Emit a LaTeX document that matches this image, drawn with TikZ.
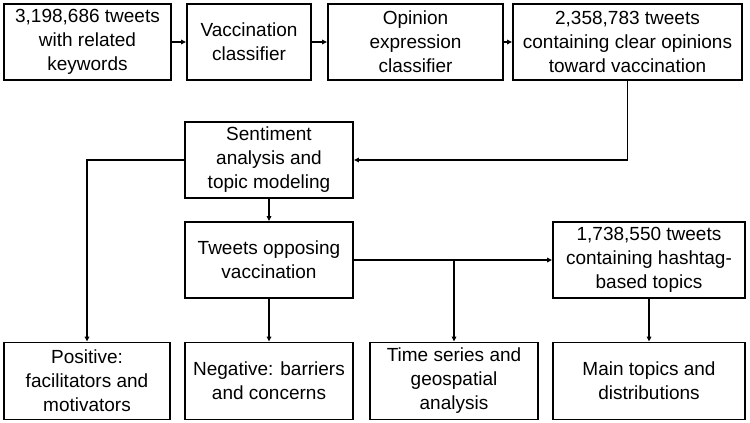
\documentclass[tikz,border=0pt]{standalone}
\usepackage{fontspec}
\setmainfont{Liberation Sans}
\usetikzlibrary{arrows.meta}
\begin{document}
\begin{tikzpicture}[x=1pt,y=-1pt,
  box/.style={draw=black,line width=1.8pt,rectangle,inner sep=0pt,align=center,
    font=\fontsize{19}{24}\selectfont,minimum height=76pt},
  conn/.style={line width=1.4pt,-{Triangle[length=5pt,width=4.5pt]}},
  plain/.style={line width=1.4pt}]
\useasboundingbox (0,0) rectangle (750,423);
\node[box,minimum width=167pt] (b1) at (87.5,42) {3,198,686 tweets\\with related\\keywords};
\node[box,minimum width=124pt] (b2) at (249,42) {Vaccination\\classifier};
\node[box,minimum width=175pt] (b3) at (415.5,42) {Opinion\\expression\\classifier};
\node[box,minimum width=229pt] (b4) at (627.5,42) {2,358,783 tweets\\containing clear opinions\\toward vaccination};
\node[box,minimum width=168pt] (sa) at (269,160) {Sentiment\\analysis and\\topic modeling};
\node[box,minimum width=168pt] (op) at (269,260) {Tweets opposing\\vaccination};
\node[box,minimum width=192pt] (ht) at (649,260) {1,738,550 tweets\\containing hashtag-\\based topics};
\node[box,minimum width=166pt,minimum height=77pt] (pos) at (87,381) {Positive:\\facilitators and\\motivators};
\node[box,minimum width=168pt,minimum height=77pt] (neg) at (269,381) {Negative: barriers\\and concerns};
\node[box,minimum width=168pt,minimum height=77pt] (ts) at (454,381) {Time series and\\geospatial\\analysis};
\node[box,minimum width=192pt,minimum height=77pt] (mt) at (649,381) {Main topics and\\distributions};
\coordinate (br) at (454,260);
\draw[conn] (b1) -- (b2);
\draw[conn] (b2) -- (b3);
\draw[conn] (b3) -- (b4);
\draw[conn] (b4.south) |- (sa.east);
\draw[conn] (sa.west) -| (pos.north);
\draw[conn] (sa) -- (op);
\draw[conn] (op) -- (ht);
\draw[conn] (op) -- (neg);
\draw[conn] (br) -- (ts.north);
\draw[conn] (ht) -- (mt);
\end{tikzpicture}
\end{document}
